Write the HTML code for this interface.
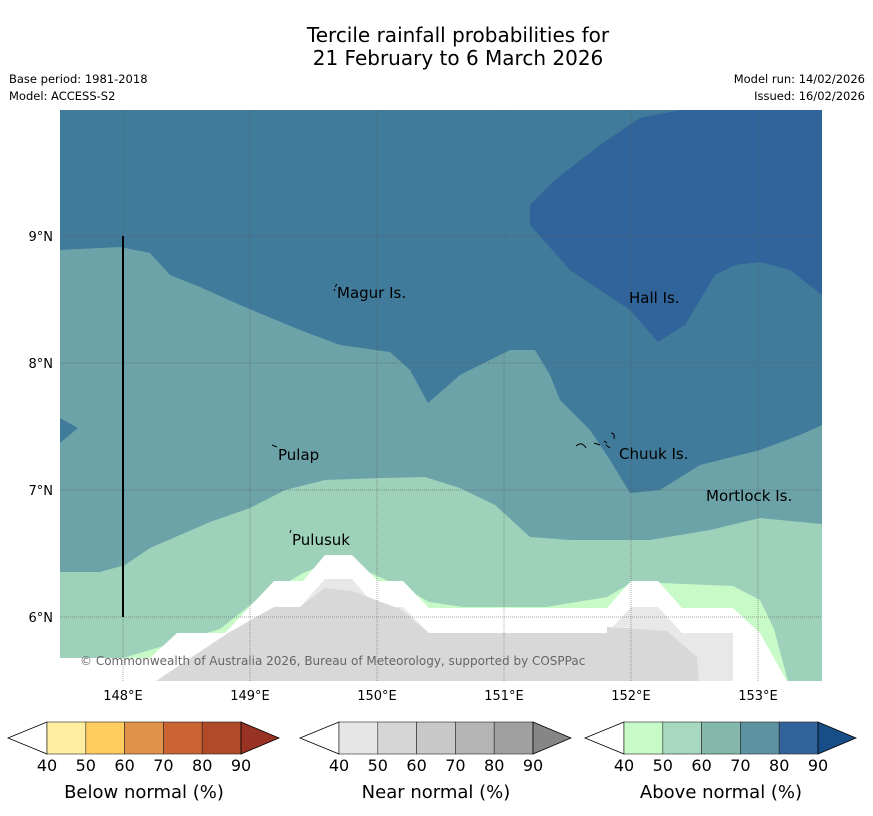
<!DOCTYPE html>
<html><head><meta charset="utf-8"><style>
body{margin:0;background:#fff;font-family:"DejaVu Sans","Liberation Sans",sans-serif}
svg{display:block;font-family:"DejaVu Sans","Liberation Sans",sans-serif}
</style></head><body>
<svg id="s" width="873" height="816" viewBox="0 0 873 816">
<text x="458" y="42" text-anchor="middle" font-size="20">Tercile rainfall probabilities for</text>
<text x="458" y="65" text-anchor="middle" font-size="20">21 February to 6 March 2026</text>
<text x="9" y="83" font-size="11.5">Base period: 1981-2018</text>
<text x="9" y="100" font-size="11.5">Model: ACCESS-S2</text>
<text x="865" y="83" font-size="11.5" text-anchor="end">Model run: 14/02/2026</text>
<text x="865" y="100" font-size="11.5" text-anchor="end">Issued: 16/02/2026</text>
<defs><clipPath id="mc"><rect x="60" y="110" width="762" height="571"/></clipPath></defs>
<g clip-path="url(#mc)">
<rect x="60" y="110" width="762" height="571" fill="#417b9b"/>
<polygon fill="#30649a" points="680,110 822,110 822,295 790,270 760,262 735,265 715,275 685,325 658,342 630,310 600,290 570,270 530,225 530,205 555,180 600,145 640,118"/>
<polygon fill="#6ca3a8" points="60,250 120,247 150,253 170,275 200,287 240,305 300,330 340,345 390,352 410,370 428,403 460,375 510,350 535,350 550,375 560,400 590,430 610,460 630,493 660,490 700,465 760,450 800,435 822,425 822,681 60,681"/>
<polygon fill="#417b9b" points="60,418 78,428 60,443"/>
<polygon fill="#9dd1b9" points="60,572 100,572 125,565 150,548 180,535 210,522 250,508 285,490 325,480 380,478 425,477 460,488 495,505 530,537 570,540 650,540 710,530 760,518 822,524 822,681 60,681"/>
<polygon fill="#c8fac8" points="123,658 150,650 220,629 254,602 303,573 325,564 371,573 410,591 429,602 463,607 546,607 607,597 631,583 660,583 733,586 760,600 774,629 789,685 123,685"/>
<polygon fill="#ffffff" points="60,658 150,658 177,633 225,633 274,581 303,581 325,555 352,555 378,581 403,581 429,608 607,608 631,581 658,581 682,608 733,608 760,633 789,685 60,685"/>
<polygon fill="#e8e8e8" points="150,685 274,607 300,607 325,579 352,579 376,607 403,607 429,633 607,633 631,607 658,607 682,633 733,633 733,685"/>
<polygon fill="#d8d8d8" points="150,685 228,633 274,607 300,607 325,588 352,591 400,609 429,633 607,633 607,627 667,631 697,657 699,685"/>
<g id="grid" stroke="#555" stroke-width="0.7" stroke-dasharray="1,1" opacity="0.7"></g>
<line x1="123" y1="236" x2="123" y2="617" stroke="#000" stroke-width="2"/>
<g font-size="15">
<text x="337" y="298">Magur Is.</text>
<path d="M335,287 l2,-3 M334,291 l1,-2" stroke="#000"/>
<text x="629" y="303">Hall Is.</text>
<text x="278" y="460">Pulap</text>
<path d="M272,445 l5,2" stroke="#000"/>
<text x="619" y="459">Chuuk Is.</text>
<path d="M576,446 q6,-5 10,2 M594,443 l6,2 M606,445 l4,3 M611,433 q4,0 3,6 M604,441 l3,2" stroke="#000" fill="none"/>
<text x="706" y="501">Mortlock Is.</text>
<text x="292" y="545">Pulusuk</text>
<path d="M290,533 l1,-3" stroke="#000"/>
</g>
<text x="80" y="665" font-size="12" fill="#666">© Commonwealth of Australia 2026, Bureau of Meteorology, supported by COSPPac</text>
</g>
<g id="axes" font-size="13"></g>
<g id="cbars"></g>
</svg>
<script>
const NS="http://www.w3.org/2000/svg";
const svg=document.getElementById('s');
function mk(t,a,p){const e=document.createElementNS(NS,t);for(const k in a)e.setAttribute(k,a[k]);p.appendChild(e);return e;}
const lonTicks=[148,149,150,151,152,153];
const latTicks=[9,8,7,6];
const lonX=v=>123+(v-148)*127;
const latY=v=>236+(9-v)*127;
const grid=document.getElementById('grid'),axes=document.getElementById('axes');
lonTicks.forEach(v=>{
 const l=mk('line',{x1:lonX(v),x2:lonX(v),y1:110,y2:681},grid);
 
 
 const t=mk('text',{x:lonX(v),y:700,'text-anchor':'middle'},axes);t.textContent=v+'°E';
 
 
});
latTicks.forEach(v=>{
 const l=mk('line',{x1:60,x2:822,y1:latY(v),y2:latY(v)},grid);
 
 
 const t=mk('text',{x:53,y:latY(v)+5,'text-anchor':'end'},axes);t.textContent=v+'°N';
 
 
});
const cbTicks=[40,50,60,70,80,90];
const cbTitles=['Below normal (%)','Near normal (%)','Above normal (%)'];
const cbColors=[['#ffeda0','#fecc5f','#e0914a','#cb6333','#b04a28','#983222'],
 ['#e6e6e6','#d6d6d6','#c8c8c8','#b4b4b4','#a0a0a0','#868686'],
 ['#c8fac8','#a6d9bf','#84b8ab','#5b93a3','#30649a','#174e87']];
const cbStart=[47,339,624];
const cbW=194/5,y0=722,y1=754,ym=738;
const cg=document.getElementById('cbars');
cbColors.forEach((cols,i)=>{
 const g=mk('g',{},cg);
 
 
 const x0=cbStart[i],xe=x0+5*cbW;
 const lt=mk('polygon',{points:`${x0},${y0} ${x0-39},${ym} ${x0},${y1}`,fill:'#fff',stroke:'#000','stroke-width':0.8},g);
 
 
 for(let k=0;k<5;k++){
  const r=mk('rect',{x:x0+k*cbW,y:y0,width:cbW,height:y1-y0,fill:cols[k],stroke:'#222','stroke-width':0.6},g);
  
  
 }
 const rt=mk('polygon',{points:`${xe},${y0} ${xe+38},${ym} ${xe},${y1}`,fill:cols[5],stroke:'#000','stroke-width':0.8},g);
 
 
 cbTicks.forEach((v,k)=>{
  const t=mk('text',{x:x0+k*cbW,y:771,'text-anchor':'middle','font-size':16},g);t.textContent=v;
  
  
 });
 const tt=mk('text',{x:(x0+xe)/2,y:798,'text-anchor':'middle','font-size':18},g);tt.textContent=cbTitles[i];
 
 
});
</script>
</body></html>
